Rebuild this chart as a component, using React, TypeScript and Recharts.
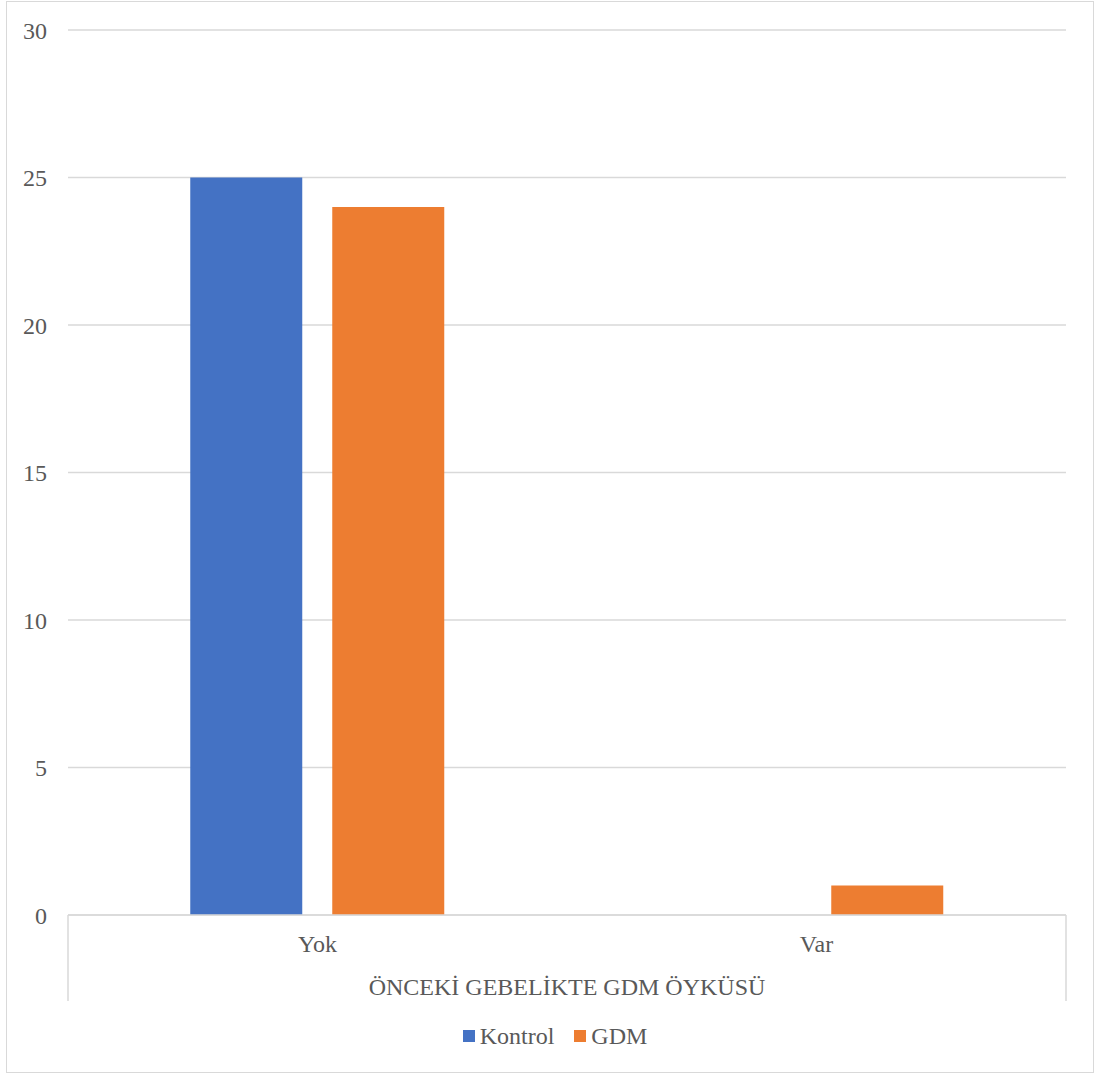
import { BarChart, Bar, XAxis, YAxis, CartesianGrid, Legend, Label, usePlotArea } from "recharts"

const categories = ["Yok", "Var"]
const kontrol = [25, 0]
const gdm = [24, 1]
const yTicks = [0, 5, 10, 15, 20, 25, 30]

const data = categories.map((name, i) => ({ name, Kontrol: kontrol[i], GDM: gdm[i] }))

const FONT = '"Liberation Serif", "Times New Roman", serif'
const TEXT = "#595959"
const LINE = "#d9d9d9"
const BLUE = "#4472C4"
const ORANGE = "#ED7D31"

// vertical bracket lines at both ends of the category axis
function AxisBrackets() {
  const plot = usePlotArea()
  if (!plot) return null
  const top = plot.y + plot.height
  return (
    <g>
      <line x1={plot.x} x2={plot.x} y1={top} y2={top + 86} stroke={LINE} strokeWidth={1.5} />
      <line x1={plot.x + plot.width} x2={plot.x + plot.width} y1={top} y2={top + 86} stroke={LINE} strokeWidth={1.5} />
    </g>
  )
}

function LegendBox() {
  const items = [
    { label: "Kontrol", color: BLUE },
    { label: "GDM", color: ORANGE },
  ]
  return (
    <div style={{ height: 70, paddingLeft: 36, display: "flex", alignItems: "center", justifyContent: "center", gap: 20, fontFamily: FONT, fontSize: 24, color: TEXT }}>
      {items.map((it) => (
        <div key={it.label} style={{ display: "flex", alignItems: "center" }}>
          <span style={{ width: 12, height: 12, background: it.color, marginRight: 5, display: "inline-block" }} />
          <span>{it.label}</span>
        </div>
      ))}
    </div>
  )
}

export default function App() {
  return (
    <div style={{ position: "absolute", left: 0, top: 0, width: 1094, height: 1074, background: "#fff" }}>
      <div style={{ position: "absolute", left: 6, top: 1, width: 1086, height: 1070, border: `1.5px solid ${LINE}` }} />
      <BarChart
        width={1094}
        height={1074}
        data={data}
        margin={{ top: 30, right: 28, bottom: 3, left: 8 }}
        barCategoryGap="24.5%"
        barGap={30}
      >
        <CartesianGrid vertical={false} stroke={LINE} strokeWidth={1.5} />
        <YAxis
          domain={[0, 30]}
          ticks={yTicks}
          width={60}
          axisLine={false}
          tickLine={false}
          tickSize={0}
          tickMargin={21}
          tick={{ fill: TEXT, fontSize: 24, fontFamily: FONT }}
        />
        <XAxis
          dataKey="name"
          height={86}
          axisLine={{ stroke: LINE, strokeWidth: 1.5 }}
          tickLine={false}
          tickSize={0}
          tickMargin={20}
          tick={{ fill: TEXT, fontSize: 24, fontFamily: FONT }}
        >
          <Label
            content={({ viewBox }: any) => (
              <text
                x={viewBox.x + viewBox.width / 2}
                y={viewBox.y + 80}
                textAnchor="middle"
                fill={TEXT}
                fontSize={24}
                fontFamily={FONT}
              >
                ÖNCEKİ GEBELİKTE GDM ÖYKÜSÜ
              </text>
            )}
          />
        </XAxis>
        <Legend verticalAlign="bottom" content={() => <LegendBox />} />
        <Bar dataKey="Kontrol" fill={BLUE} isAnimationActive={false} />
        <Bar dataKey="GDM" fill={ORANGE} isAnimationActive={false} />
        <AxisBrackets />
      </BarChart>
    </div>
  )
}
